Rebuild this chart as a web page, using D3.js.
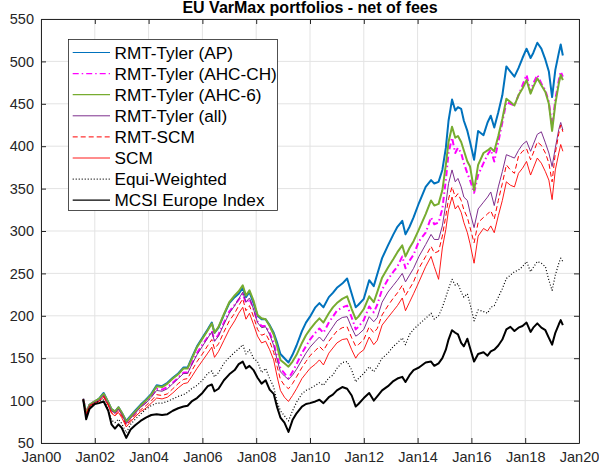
<!DOCTYPE html>
<html>
<head>
<meta charset="utf-8">
<script src="https://cdn.jsdelivr.net/npm/d3@7"></script>
<style>
  body { margin: 0; background: #ffffff; }
  svg { display: block; font-family: "Liberation Sans", Arial, Helvetica, sans-serif; }
</style>
</head>
<body>
<div id="chart"></div>
<script>
// EU VarMax portfolios - net of fees

// dates as decimal years
const dates = [2001.57, 2001.68, 2001.8, 2002.0, 2002.15, 2002.33, 2002.5, 2002.62, 2002.75, 2002.88,
  2003.0, 2003.17, 2003.33, 2003.5, 2003.7, 2003.9, 2004.1, 2004.3, 2004.5, 2004.7,
  2004.9, 2005.1, 2005.3, 2005.45, 2005.6, 2005.8, 2006.0, 2006.2, 2006.35, 2006.45,
  2006.6, 2006.8, 2007.0, 2007.2, 2007.35, 2007.5, 2007.62, 2007.75, 2007.9, 2008.05,
  2008.2, 2008.35, 2008.5, 2008.65, 2008.78, 2008.9, 2009.05, 2009.2, 2009.35, 2009.5,
  2009.7, 2009.85, 2010.0, 2010.2, 2010.35, 2010.5, 2010.7, 2010.85, 2011.0, 2011.2,
  2011.38, 2011.55, 2011.7, 2011.8, 2012.0, 2012.2, 2012.37, 2012.5, 2012.68, 2012.9,
  2013.1, 2013.25, 2013.43, 2013.55, 2013.7, 2013.85, 2014.05, 2014.3, 2014.5, 2014.62,
  2014.78, 2014.92, 2015.05, 2015.15, 2015.28, 2015.4, 2015.5, 2015.62, 2015.72, 2015.85,
  2015.95, 2016.1, 2016.25, 2016.45, 2016.6, 2016.72, 2016.85, 2017.0, 2017.15, 2017.3,
  2017.45, 2017.6, 2017.75, 2017.9, 2018.05, 2018.2, 2018.3, 2018.45, 2018.6, 2018.75,
  2018.88, 2019.0, 2019.12, 2019.25, 2019.32, 2019.4];

const tylerAP = [102, 85, 95, 99, 102, 109, 98, 90, 87, 92,
  86, 76, 82, 88, 95, 101, 108, 118, 117, 121,
  127, 132, 139, 139, 150, 164, 174, 184, 192, 180,
  186, 201, 215, 222, 226, 233, 222, 228, 215, 200,
  196, 196, 189, 180, 168, 155, 150, 145, 154, 165,
  182, 192, 199, 210, 215, 210, 222, 227, 233, 238,
  244, 226, 210, 213, 220, 242, 235, 249, 268, 283,
  296, 305, 312, 296, 305, 316, 333, 352, 360, 356,
  358, 372, 398, 430, 455, 442, 446, 444, 430, 418,
  405, 384, 418, 413, 428, 436, 422, 440, 460, 494,
  488, 482, 492, 504, 515, 504, 510, 522, 515, 502,
  488, 458, 490, 510, 520, 507];

const tylerAhcCh = [102, 85, 95, 99, 101, 107, 97, 89, 86, 91,
  85, 74, 80, 86, 93, 98, 105, 114, 113, 116,
  121, 127, 133, 133, 143, 156, 166, 175, 182, 171,
  178, 192, 205, 213, 219, 226, 215, 220, 208, 193,
  188, 188, 180, 168, 152, 138, 132, 126, 134, 143,
  156, 164, 172, 180, 185, 180, 192, 199, 206, 210,
  212, 198, 184, 187, 195, 211, 204, 213, 231, 243,
  252, 258, 270, 256, 265, 272, 288, 298, 316, 308,
  310, 326, 360, 392, 410, 392, 398, 392, 380, 368,
  360, 345, 366, 380, 390, 396, 382, 405, 428, 452,
  450, 448, 460, 472, 484, 464, 474, 484, 474, 466,
  452, 422, 455, 478, 488, 482];

const tylerAhc6 = [102, 85, 95, 99, 102, 108, 98, 90, 87, 92,
  86, 75, 81, 87, 94, 100, 107, 117, 116, 120,
  126, 131, 138, 138, 149, 163, 173, 183, 191, 180,
  187, 202, 216, 224, 229, 236, 224, 230, 218, 201,
  197, 196, 188, 178, 164, 148, 144, 140, 146, 154,
  168, 177, 184, 192, 197, 192, 203, 210, 215, 220,
  223, 208, 196, 199, 208, 223, 216, 228, 245, 257,
  267, 275, 283, 270, 280, 288, 302, 320, 336, 330,
  332, 348, 378, 405, 423, 410, 412, 405, 395, 382,
  376, 348, 378, 392, 395, 398, 394, 412, 432, 456,
  452, 448, 460, 468, 478, 462, 470, 480, 472, 464,
  450, 418, 450, 474, 484, 478];

const tylerAll = [102, 84, 94, 98, 100, 106, 96, 88, 85, 90,
  84, 73, 79, 85, 92, 97, 104, 112, 111, 114,
  120, 126, 132, 132, 142, 154, 164, 174, 181, 170,
  176, 190, 203, 212, 220, 228, 216, 221, 208, 192,
  186, 187, 178, 165, 148, 134, 129, 125, 130, 137,
  148, 156, 163, 170, 175, 170, 180, 187, 194, 198,
  199, 186, 176, 178, 184, 199, 193, 198, 216, 228,
  236, 242, 250, 240, 248, 256, 270, 284, 296, 290,
  290, 306, 332, 356, 372, 358, 362, 352, 340, 336,
  322, 304, 326, 334, 340, 346, 330, 352, 370, 390,
  388, 386, 395, 402, 406, 394, 402, 414, 417, 404,
  392, 376, 398, 420, 428, 419];

const rmtScm = [101, 84, 94, 97, 99, 105, 95, 86, 83, 88,
  82, 71, 77, 83, 89, 94, 100, 107, 106, 108,
  114, 120, 125, 126, 135, 146, 155, 165, 172, 161,
  167, 181, 194, 203, 212, 220, 206, 212, 199, 184,
  177, 179, 170, 157, 140, 125, 118, 114, 120, 128,
  139, 146, 153, 159, 164, 159, 170, 176, 182, 186,
  187, 174, 164, 166, 172, 187, 180, 185, 201, 212,
  221, 227, 236, 224, 232, 240, 256, 270, 282, 274,
  276, 294, 318, 338, 352, 340, 344, 336, 325, 316,
  304, 286, 310, 316, 320, 324, 314, 336, 356, 378,
  372, 368, 388, 394, 397, 384, 392, 405, 401, 392,
  380, 358, 392, 415, 425, 417];

const scm = [101, 83, 93, 97, 99, 104, 94, 85, 82, 86,
  80, 69, 75, 81, 87, 91, 97, 103, 102, 104,
  109, 115, 120, 121, 128, 138, 147, 156, 163, 151,
  158, 171, 184, 194, 203, 210, 196, 203, 190, 176,
  168, 170, 160, 148, 128, 112, 104, 99, 106, 114,
  126, 132, 138, 143, 148, 142, 156, 162, 168, 172,
  173, 160, 150, 155, 160, 175, 166, 171, 189, 198,
  206, 212, 221, 206, 216, 226, 240, 258, 270, 258,
  243, 280, 302, 325, 340, 326, 330, 322, 310, 298,
  285, 262, 294, 303, 300, 306, 298, 318, 336, 358,
  354, 352, 368, 374, 382, 366, 374, 386, 380, 370,
  360, 337, 372, 392, 402, 394];

const equiWeighted = [102, 80, 92, 97, 99, 101, 90, 77, 74, 78,
  73, 62, 72, 78, 84, 90, 94, 97, 97, 99,
  102, 105, 107, 110, 114, 118, 124, 132, 135, 128,
  133, 144, 151, 157, 161, 166, 155, 160, 150, 146,
  133, 138, 126, 116, 98, 88, 82, 76, 88, 98,
  108, 112, 114, 118, 121, 118, 127, 130, 138, 145,
  146, 136, 122, 126, 132, 140, 134, 140, 150, 156,
  164, 168, 174, 166, 178, 184, 190, 197, 203, 196,
  200, 210, 222, 232, 243, 236, 238, 228, 222, 226,
  214, 194, 207, 205, 203, 210, 212, 222, 232, 244,
  248, 252, 254, 258, 264, 252, 257, 264, 262, 258,
  242, 230, 248, 262, 268, 264];

const msciEurope = [101, 78, 90, 96, 97, 99, 88, 72, 67, 72,
  68, 56, 66, 71, 76, 80, 83, 84, 83, 84,
  88, 91, 93, 94, 99, 103, 109, 117, 119, 111,
  114, 124, 131, 136, 143, 146, 138, 141, 136, 127,
  120, 124, 113, 108, 92, 80, 74, 63, 77, 85,
  93, 96, 97, 99, 101, 97, 104, 107, 112, 116,
  114, 106, 93, 96, 103, 109, 100, 105, 112, 117,
  123, 126, 128, 122, 130, 136, 139, 145, 146, 141,
  144, 150, 160, 172, 183, 180, 178, 168, 164, 173,
  162, 146, 155, 157, 153, 158, 160, 165, 172, 184,
  187, 182, 186, 188, 192, 181, 186, 191, 186, 183,
  174, 166, 180, 190, 195, 189];

const seriesNames = ["RMT-Tyler (AP)", "RMT-Tyler (AHC-CH)", "RMT-Tyler (AHC-6)", "RMT-Tyler (all)",
  "RMT-SCM", "SCM", "Equi-Weighted", "MCSI Europe Index"];

const xTicks = [2000, 2002, 2004, 2006, 2008, 2010, 2012, 2014, 2016, 2018, 2020];
const yTicks = [50, 100, 150, 200, 250, 300, 350, 400, 450, 500, 550];

// styles for each series, in the legend order
const styles = [
  {color: "#0072BD", width: 2.0, dash: null},
  {color: "#FF00FF", width: 2.0, dash: "6,3,1.5,3"},
  {color: "#77AC30", width: 2.0, dash: null},
  {color: "#7E2F8E", width: 1.0, dash: null},
  {color: "#FF0000", width: 1.0, dash: "5,3"},
  {color: "#FF0000", width: 0.9, dash: null},
  {color: "#000000", width: 1.2, dash: "1,2"},
  {color: "#000000", width: 2.0, dash: null}
];

const values = [tylerAP, tylerAhcCh, tylerAhc6, tylerAll, rmtScm, scm, equiWeighted, msciEurope];
const series = seriesNames.map((name, i) => ({
  name: name,
  style: styles[i],
  points: dates.map((d, j) => ({t: d, v: values[i][j]}))
}));

const W = 599, H = 469;
const margin = {top: 19, right: 20, bottom: 26, left: 41};
const pw = W - margin.left - margin.right;
const ph = H - margin.top - margin.bottom;
const axisColor = "#262626";

const svg = d3.select("#chart")
  .append("svg")
  .attr("width", W)
  .attr("height", H);

svg.append("rect")
  .attr("width", W)
  .attr("height", H)
  .attr("fill", "#ffffff");

const x = d3.scaleLinear().domain([2000, 2020]).range([margin.left, margin.left + pw]);
const y = d3.scaleLinear().domain([50, 550]).range([margin.top + ph, margin.top]);

// grid
svg.append("g")
  .selectAll("line")
  .data(xTicks)
  .enter()
  .append("line")
  .attr("x1", d => x(d)).attr("x2", d => x(d))
  .attr("y1", margin.top).attr("y2", margin.top + ph)
  .attr("stroke", "#e3e3e3")
  .attr("stroke-width", 1);

svg.append("g")
  .selectAll("line")
  .data(yTicks)
  .enter()
  .append("line")
  .attr("y1", d => y(d)).attr("y2", d => y(d))
  .attr("x1", margin.left).attr("x2", margin.left + pw)
  .attr("stroke", "#e3e3e3")
  .attr("stroke-width", 1);

// lines
const line = d3.line()
  .x(d => x(d.t))
  .y(d => y(d.v));

svg.append("g")
  .selectAll("path")
  .data(series)
  .enter()
  .append("path")
  .attr("d", d => line(d.points))
  .attr("fill", "none")
  .attr("stroke", d => d.style.color)
  .attr("stroke-width", d => d.style.width)
  .attr("stroke-dasharray", d => d.style.dash)
  .attr("stroke-linejoin", "round");

// axes (ticks pointing in, mirrored on top and right)
const fmtX = d => "Jan" + String(d % 100).padStart(2, "0");

svg.append("g")
  .attr("transform", `translate(0,${margin.top + ph})`)
  .call(d3.axisBottom(x).tickValues(xTicks).tickFormat(fmtX).tickSizeInner(-5).tickSizeOuter(0).tickPadding(9));

svg.append("g")
  .attr("transform", `translate(${margin.left},0)`)
  .call(d3.axisLeft(y).tickValues(yTicks).tickSizeInner(-5).tickSizeOuter(0).tickPadding(7));

svg.append("g")
  .attr("transform", `translate(0,${margin.top})`)
  .call(d3.axisTop(x).tickValues(xTicks).tickFormat("").tickSizeInner(-5).tickSizeOuter(0));

svg.append("g")
  .attr("transform", `translate(${margin.left + pw},0)`)
  .call(d3.axisRight(y).tickValues(yTicks).tickFormat("").tickSizeInner(-5).tickSizeOuter(0));

svg.selectAll(".domain").attr("stroke", axisColor).attr("stroke-width", 1);
svg.selectAll(".tick line").attr("stroke", axisColor);
svg.selectAll(".tick text")
  .attr("fill", axisColor)
  .style("font-size", "14.5px")
  .style("font-family", "'Liberation Sans', Arial, sans-serif");

// title
svg.append("text")
  .attr("x", margin.left + pw / 2)
  .attr("y", 13)
  .attr("text-anchor", "middle")
  .style("font-size", "16px")
  .style("font-weight", "bold")
  .attr("fill", "#000000")
  .text("EU VarMax portfolios - net of fees");

// legend
const lg = {x: 68.5, y: 39.5, w: 209, h: 171, row: 21.1, first: 52.5};

svg.append("rect")
  .attr("x", lg.x).attr("y", lg.y)
  .attr("width", lg.w).attr("height", lg.h)
  .attr("fill", "#ffffff")
  .attr("stroke", axisColor)
  .attr("stroke-width", 0.8);

const legend = svg.append("g")
  .selectAll("g")
  .data(series)
  .enter()
  .append("g")
  .attr("transform", (d, i) => `translate(0,${lg.first + i * lg.row})`);

legend.append("line")
  .attr("x1", 72.7).attr("x2", 110)
  .attr("y1", 0).attr("y2", 0)
  .attr("stroke", d => d.style.color)
  .attr("stroke-width", d => Math.min(d.style.width, 1.2))
  .attr("stroke-dasharray", d => d.style.dash);

legend.append("text")
  .attr("x", 114.5)
  .attr("y", 0)
  .attr("dy", "0.35em")
  .style("font-size", "17.2px")
  .attr("fill", "#000000")
  .text(d => d.name);
</script>
</body>
</html>
